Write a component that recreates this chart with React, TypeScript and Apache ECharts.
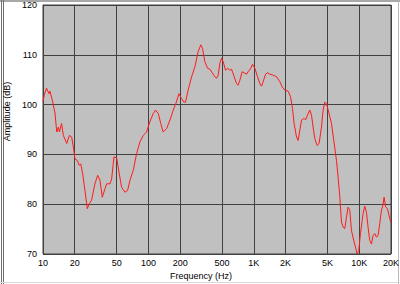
import React, { useEffect, useRef } from 'react';
import * as echarts from 'echarts';

const frequencies = [
  10, 10.3, 10.8, 11.4, 11.65, 12.25, 13.0, 13.5, 14.0, 14.3, 15.0, 15.6, 16.8, 17.8, 18.7, 19.4,
  20.1, 21.1, 22.1, 22.8, 23.8, 25.0, 26.3, 27.5, 28.9, 31.1, 33.0, 34.7, 36.5, 38.7, 40.2, 43.2,
  44.8, 47.1, 50.0, 52.9, 55.7, 59.9, 63.5, 66.8, 71.8, 77.3, 83.1, 89.3, 96.1, 103, 111, 117,
  124, 131, 138, 149, 160, 172, 182, 195, 206, 217, 225, 238, 257, 276, 296, 314, 326, 343,
  364, 383, 402, 427, 443, 459, 476, 494, 512, 539, 563, 592, 615, 651, 686, 710, 737, 775,
  809, 853, 883, 937, 972, 1022, 1084, 1140, 1183, 1225, 1291, 1349, 1418, 1524, 1642, 1764,
  1855, 1967, 2114, 2228, 2327, 2410, 2539, 2630, 2729, 2833, 2978, 3111, 3228, 3395, 3523,
  3649, 3786, 3981, 4159, 4383, 4539, 4710, 4888, 5171, 5451, 5731, 6080, 6295, 6535, 6782,
  7022, 7287, 7562, 7830, 8128, 8435, 8871, 9204, 9530, 9892, 10266, 10864, 11274, 11700,
  12117, 12575, 13049, 13514, 14026, 14555, 15075, 15645, 16235, 16813, 17184, 17833, 18507,
  19165, 19888,
];

const amplitudes = [
  100.6, 102.0, 103.3, 102.2, 102.7, 100.9, 98.3, 94.5, 95.5, 94.5, 96.2, 93.8, 92.2, 93.8, 93.5, 91.5,
  89.1, 88.8, 87.8, 88.1, 86.1, 82.8, 79.1, 80.1, 80.8, 84.1, 85.8, 84.8, 81.4, 83.1, 84.1, 84.1,
  85.1, 89.5, 89.3, 86.1, 83.4, 82.4, 82.8, 84.8, 86.8, 90.2, 92.5, 93.8, 94.5, 96.5, 98.2, 98.9,
  98.2, 96.2, 94.5, 95.2, 96.9, 98.9, 100.2, 102.2, 101.2, 100.5, 100.5, 102.9, 105.6, 107.6, 110.6, 112.0, 111.3, 108.6,
  107.3, 107.1, 106.4, 105.6, 105.3, 105.9, 108.3, 109.3, 108.6, 106.9, 107.3, 106.9, 107.1, 105.6, 104.2, 103.9, 104.9, 106.6,
  106.4, 106.1, 106.6, 107.3, 108.1, 107.3, 105.6, 104.2, 103.7, 104.6, 106.1, 106.4, 106.1, 105.9, 105.6, 104.6,
  103.6, 102.9, 102.7, 101.6, 99.2, 96.2, 93.5, 92.8, 94.8, 96.9, 97.2, 97.0, 97.9, 98.9, 97.9,
  95.5, 93.2, 91.8, 92.2, 95.5, 98.9, 100.5, 100.2, 98.2, 96.2, 92.8, 88.8, 85.5, 81.5, 76.4,
  75.4, 75.1, 77.4, 79.4, 78.8, 74.7, 72.7, 71.4, 70.0, 70.7, 74.1, 78.1, 79.6, 78.4,
  75.4, 72.7, 72.0, 73.7, 74.1, 73.4, 73.7, 76.1, 78.8, 79.9, 81.4, 79.4, 79.1,
  77.7, 76.4,
];

const xTickFreqs = [10, 20, 50, 100, 200, 500, 1000, 2000, 5000, 10000, 20000];
const xTickLabels = ['10', '20', '50', '100', '200', '500', '1K', '2K', '5K', '10K', '20K'];
const yMin = 70;
const yMax = 120;
const yStep = 10;

export default function App() {
  const ref = useRef<HTMLDivElement>(null);

  useEffect(() => {
    if (!ref.current) return;
    const chart = echarts.init(ref.current, null, { renderer: 'svg' });
    const tickLogs = xTickFreqs.map((f) => Math.log10(f));
    const logMin = Math.log10(xTickFreqs[0]);
    const logMax = Math.log10(xTickFreqs[xTickFreqs.length - 1]);
    const font = 'Liberation Sans, Arial, sans-serif';

    chart.setOption({
      animation: false,
      backgroundColor: '#ffffff',
      textStyle: { fontFamily: font },
      grid: {
        left: 43,
        right: 9,
        top: 5,
        height: 249,
        outerBoundsMode: 'none',
        containLabel: false,
        show: true,
        backgroundColor: '#c0c0c0',
        borderColor: '#404040',
        borderWidth: 1,
      },
      xAxis: [
        {
          type: 'log',
          logBase: 10,
          min: xTickFreqs[0],
          max: xTickFreqs[xTickFreqs.length - 1],
          show: false,
        },
        {
          type: 'value',
          min: logMin,
          max: logMax,
          position: 'bottom',
          axisLine: { show: false },
          axisTick: { show: false, customValues: tickLogs },
          axisLabel: {
            customValues: tickLogs,
            margin: 4,
            fontSize: 9,
            color: '#000000',
            fontFamily: font,
            hideOverlap: false,
            formatter: (v: number) => {
              const i = tickLogs.findIndex((t) => Math.abs(t - v) < 1e-6);
              return i >= 0 ? xTickLabels[i] : '';
            },
          },
          splitLine: { show: true, lineStyle: { color: '#404040', width: 1 } },
          name: 'Frequency (Hz)',
          nameLocation: 'middle',
          nameGap: 16,
          nameTextStyle: { fontSize: 9, color: '#000000', fontFamily: font, padding: [0, 32, 0, 0] },
        },
      ],
      yAxis: {
        type: 'value',
        min: yMin,
        max: yMax,
        interval: yStep,
        axisLine: { show: true, lineStyle: { color: '#404040' } },
        axisTick: { show: false },
        axisLabel: { margin: 6, fontSize: 9, color: '#000000', fontFamily: font },
        splitLine: { show: true, lineStyle: { color: '#404040', width: 1 } },
        name: 'Amplitude (dB)',
        nameLocation: 'middle',
        nameGap: 28,
        nameTextStyle: { fontSize: 9, color: '#000000', fontFamily: font, padding: [0, 0, 0, 36] },
      },
      series: [
        {
          type: 'line',
          xAxisIndex: 0,
          data: frequencies.map((f, i) => [f, amplitudes[i]]),
          showSymbol: false,
          symbol: 'none',
          clip: true,
          lineStyle: { color: '#ff1a1a', width: 1 },
        },
      ],
      graphic: [
        { type: 'rect', shape: { x: 0, y: 0, width: 400, height: 2 }, style: { fill: '#a8a8a8' }, silent: true },
        { type: 'rect', shape: { x: 1, y: 0, width: 1, height: 284 }, style: { fill: '#707070' }, silent: true },
        { type: 'rect', shape: { x: 3, y: 0, width: 1, height: 284 }, style: { fill: '#707070' }, silent: true },
        { type: 'rect', shape: { x: 398, y: 0, width: 1, height: 284 }, style: { fill: '#b8b8b8' }, silent: true },
        { type: 'rect', shape: { x: 0, y: 282, width: 400, height: 1 }, style: { fill: '#d8d8d8' }, silent: true },
      ],
    });

    return () => chart.dispose();
  }, []);

  return (
    <div
      ref={ref}
      style={{ position: 'fixed', left: 0, top: 0, width: 400, height: 284 }}
    />
  );
}
